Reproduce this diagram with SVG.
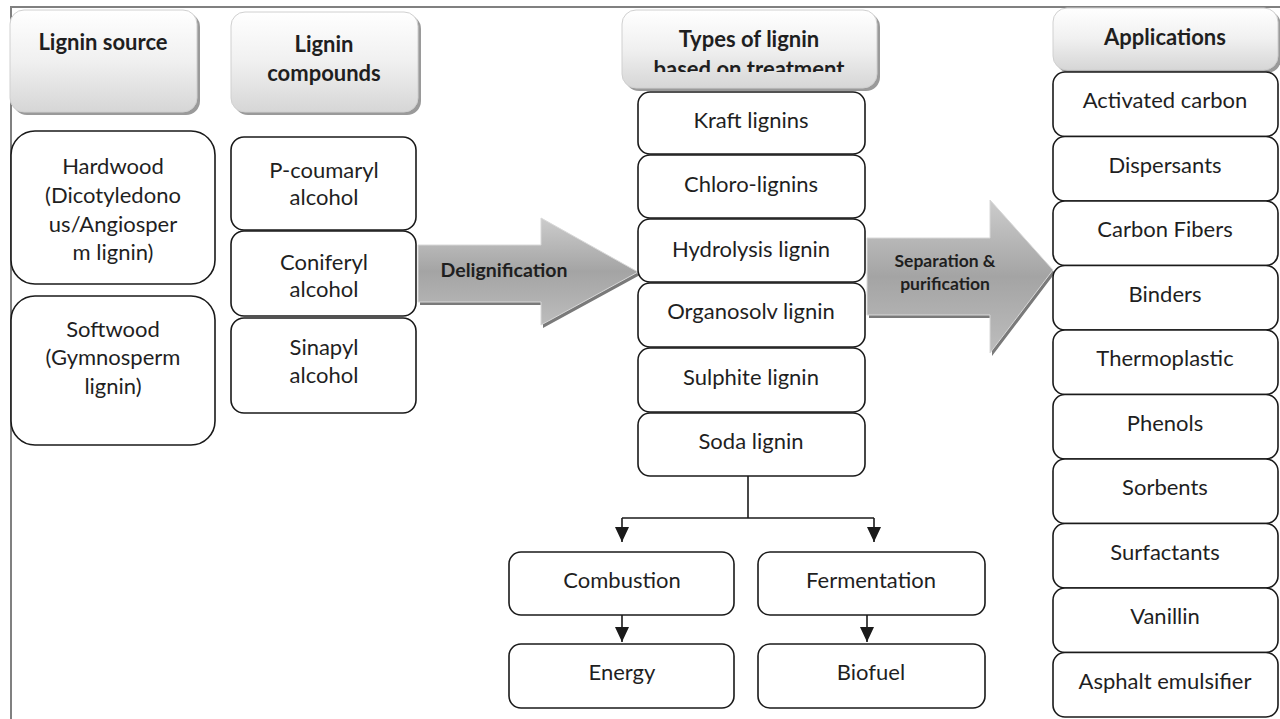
<svg xmlns="http://www.w3.org/2000/svg" width="1280" height="719" viewBox="0 0 1280 719">
<defs>
<linearGradient id="hdr" x1="0" y1="0" x2="0" y2="1">
<stop offset="0" stop-color="#ffffff"/>
<stop offset="0.5" stop-color="#f0f0f0"/>
<stop offset="1" stop-color="#d6d6d6"/>
</linearGradient>
<linearGradient id="arr" x1="0" y1="0" x2="0" y2="1">
<stop offset="0" stop-color="#cccccc"/>
<stop offset="0.5" stop-color="#a4a4a4"/>
<stop offset="1" stop-color="#bdbdbd"/>
</linearGradient>
<marker id="ah" viewBox="0 0 15 14" refX="15" refY="7" markerWidth="15" markerHeight="14" markerUnits="userSpaceOnUse" orient="auto">
<path d="M0,0 L15,7 L0,14 Z" fill="#1a1a1a"/>
</marker>
<clipPath id="typesClip"><rect x="622" y="10" width="256" height="62"/></clipPath>
</defs>
<style>
text{font-family:Lato,"Liberation Sans",sans-serif;fill:#1f1f1f;text-anchor:middle}
.t{font-size:22px}
.h{font-size:22px;font-weight:bold}
.box{fill:#ffffff;stroke:#1a1a1a;stroke-width:1.6}
.hdr{fill:url(#hdr);stroke:#d0d0d0;stroke-width:1}
.sh{fill:#9a9a9a}
.ash{fill:#7a7a7a}
.arr{fill:url(#arr);stroke:#d8d8d8;stroke-width:1}
.con{fill:none;stroke:#1a1a1a;stroke-width:1.6}
.frame{stroke:#808080;stroke-width:2;fill:none}
</style>
<rect width="1280" height="719" fill="#ffffff"/>
<path class="frame" d="M11,719 L11,7 L1280,7"/>

<g id="hdr-source">
<rect class="sh" x="13" y="13" width="187" height="102" rx="14"/>
<rect class="hdr" x="10" y="10" width="187" height="102" rx="14"/>
<text class="h" x="103" y="50">Lignin source</text>
</g>
<g id="hdr-compounds">
<rect class="sh" x="234" y="15" width="187" height="100" rx="14"/>
<rect class="hdr" x="231" y="12" width="187" height="100" rx="14"/>
<text class="h" x="324" y="52">Lignin</text>
<text class="h" x="324" y="81">compounds</text>
</g>
<g id="hdr-types">
<rect class="sh" x="625" y="13" width="255" height="78" rx="14"/>
<rect class="hdr" x="622" y="10" width="255" height="78" rx="14"/>
<g clip-path="url(#typesClip)">
<text class="h" x="749" y="47">Types of lignin</text>
<text class="h" x="749" y="77">based on treatment</text>
</g>
</g>
<g id="hdr-applications">
<rect class="sh" x="1056" y="11" width="225" height="62" rx="14"/>
<rect class="hdr" x="1053" y="8" width="225" height="62" rx="14"/>
<text class="h" x="1165" y="45">Applications</text>
</g>

<g id="hardwood">
<rect class="box" x="11" y="131" width="204" height="153" rx="24"/>
<text class="t" x="113" y="174">Hardwood</text>
<text class="t" x="113" y="203">(Dicotyledono</text>
<text class="t" x="113" y="232">us/Angiosper</text>
<text class="t" x="113" y="260">m lignin)</text>
</g>
<g id="softwood">
<rect class="box" x="11" y="296" width="204" height="149" rx="24"/>
<text class="t" x="113" y="337">Softwood</text>
<text class="t" x="113" y="365">(Gymnosperm</text>
<text class="t" x="113" y="394">lignin)</text>
</g>

<g id="p-coumaryl">
<rect class="box" x="231" y="137" width="185" height="93" rx="13"/>
<text class="t" x="324" y="178">P-coumaryl</text>
<text class="t" x="324" y="205">alcohol</text>
</g>
<g id="coniferyl">
<rect class="box" x="231" y="231" width="185" height="85" rx="13"/>
<text class="t" x="324" y="270">Coniferyl</text>
<text class="t" x="324" y="297">alcohol</text>
</g>
<g id="sinapyl">
<rect class="box" x="231" y="318" width="185" height="95" rx="13"/>
<text class="t" x="324" y="355">Sinapyl</text>
<text class="t" x="324" y="383">alcohol</text>
</g>

<g id="delignification">
<path class="ash" d="M420,248 L543,248 L543,221 L640,275 L543,328 L543,305 L420,305 Z"/>
<path class="arr" d="M418,245 L541,245 L541,218 L638,272 L541,325 L541,302 L418,302 Z"/>
<text class="h" x="504" y="277" style="font-size:19.5px">Delignification</text>
</g>

<g id="kraft"><rect class="box" x="638" y="92" width="227" height="62" rx="12"/><text class="t" x="751" y="128">Kraft lignins</text></g>
<g id="chloro"><rect class="box" x="638" y="155" width="227" height="63" rx="12"/><text class="t" x="751" y="192">Chloro-lignins</text></g>
<g id="hydrolysis"><rect class="box" x="638" y="219" width="227" height="63" rx="12"/><text class="t" x="751" y="257">Hydrolysis lignin</text></g>
<g id="organosolv"><rect class="box" x="638" y="283" width="227" height="64" rx="12"/><text class="t" x="751" y="319">Organosolv lignin</text></g>
<g id="sulphite"><rect class="box" x="638" y="348" width="227" height="64" rx="12"/><text class="t" x="751" y="385">Sulphite lignin</text></g>
<g id="soda"><rect class="box" x="638" y="413" width="227" height="63" rx="12"/><text class="t" x="751" y="449">Soda lignin</text></g>

<g id="separation">
<path class="ash" d="M869,241 L992,241 L992,203 L1055,273 L992,356 L992,318 L869,318 Z"/>
<path class="arr" d="M867,238 L990,238 L990,200 L1053,270 L990,353 L990,315 L867,315 Z"/>
<text class="h" x="945" y="267" style="font-size:17.5px">Separation &amp;</text>
<text class="h" x="945" y="290" style="font-size:17.5px">purification</text>
</g>

<g id="app-activated"><rect class="box" x="1053" y="72" width="225" height="64.5" rx="12"/><text class="t" x="1165" y="108">Activated carbon</text></g>
<g id="app-dispersants"><rect class="box" x="1053" y="136.5" width="225" height="64.5" rx="12"/><text class="t" x="1165" y="173">Dispersants</text></g>
<g id="app-carbonfibers"><rect class="box" x="1053" y="201" width="225" height="64.5" rx="12"/><text class="t" x="1165" y="237">Carbon Fibers</text></g>
<g id="app-binders"><rect class="box" x="1053" y="265.5" width="225" height="64.5" rx="12"/><text class="t" x="1165" y="302">Binders</text></g>
<g id="app-thermoplastic"><rect class="box" x="1053" y="330" width="225" height="64.5" rx="12"/><text class="t" x="1165" y="366">Thermoplastic</text></g>
<g id="app-phenols"><rect class="box" x="1053" y="394.5" width="225" height="64.5" rx="12"/><text class="t" x="1165" y="431">Phenols</text></g>
<g id="app-sorbents"><rect class="box" x="1053" y="459" width="225" height="64.5" rx="12"/><text class="t" x="1165" y="495">Sorbents</text></g>
<g id="app-surfactants"><rect class="box" x="1053" y="523.5" width="225" height="64.5" rx="12"/><text class="t" x="1165" y="560">Surfactants</text></g>
<g id="app-vanillin"><rect class="box" x="1053" y="588" width="225" height="64.5" rx="12"/><text class="t" x="1165" y="624">Vanillin</text></g>
<g id="app-asphalt"><rect class="box" x="1053" y="652.5" width="225" height="64.5" rx="12"/><text class="t" x="1165" y="689">Asphalt emulsifier</text></g>

<g id="combustion"><rect class="box" x="509" y="552" width="225" height="63" rx="12"/><text class="t" x="622" y="588">Combustion</text></g>
<g id="energy"><rect class="box" x="509" y="644" width="225" height="64" rx="12"/><text class="t" x="622" y="680">Energy</text></g>
<g id="fermentation"><rect class="box" x="758" y="552" width="227" height="63" rx="12"/><text class="t" x="871" y="588">Fermentation</text></g>
<g id="biofuel"><rect class="box" x="758" y="644" width="227" height="64" rx="12"/><text class="t" x="871" y="680">Biofuel</text></g>

<g id="connectors">
<path class="con" d="M748,476 L748,518"/>
<path class="con" d="M622,518 L874,518"/>
<path class="con" d="M622,518 L622,542" marker-end="url(#ah)"/>
<path class="con" d="M874,518 L874,542" marker-end="url(#ah)"/>
<path class="con" d="M622,615 L622,642" marker-end="url(#ah)"/>
<path class="con" d="M867,615 L867,642" marker-end="url(#ah)"/>
</g>
</svg>
